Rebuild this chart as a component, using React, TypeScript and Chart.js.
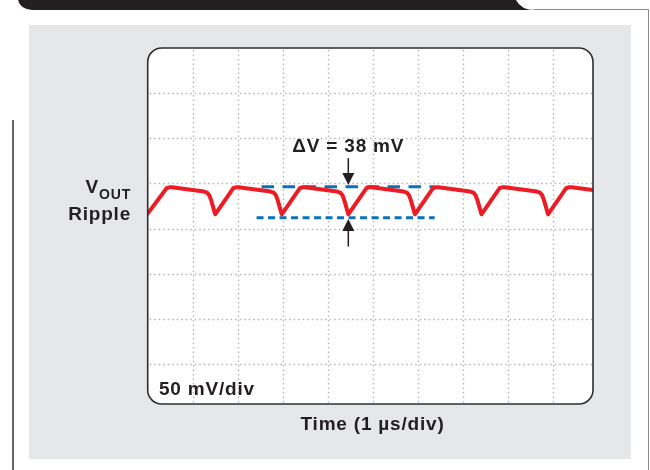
import React, { useEffect, useRef } from "react";
import { Chart, registerables } from "chart.js";

Chart.register(...registerables);

// ---- data (time in µs, ripple in mV, 0 mV = screen centre) ----
const timeUs = [
  0.0, 0.42, 0.48, 0.54,
  1.25, 1.32, 1.37, 1.41, 1.45, 1.5, 1.9, 1.96, 2.02,
  2.73, 2.8, 2.85, 2.89, 2.93, 2.98, 3.38, 3.44, 3.5,
  4.21, 4.28, 4.33, 4.37, 4.41, 4.46, 4.86, 4.92, 4.98,
  5.69, 5.76, 5.81, 5.85, 5.89, 5.94, 6.34, 6.4, 6.46,
  7.17, 7.24, 7.29, 7.33, 7.37, 7.42, 7.82, 7.88, 7.94,
  8.65, 8.72, 8.77, 8.81, 8.85, 8.9, 9.3, 9.36, 9.42,
  9.9,
];
const rippleMv = [
  16.5, 44.6, 45.6, 45.7,
  41.0, 39.8, 36.8, 31.5, 24.5, 15.8, 44.6, 45.6, 45.7,
  41.0, 39.8, 36.8, 31.5, 24.5, 15.8, 44.6, 45.6, 45.7,
  41.0, 39.8, 36.8, 31.5, 24.5, 15.8, 44.6, 45.6, 45.7,
  41.0, 39.8, 36.8, 31.5, 24.5, 15.8, 44.6, 45.6, 45.7,
  41.0, 39.8, 36.8, 31.5, 24.5, 15.8, 44.6, 45.6, 45.7,
  41.0, 39.8, 36.8, 31.5, 24.5, 15.8, 44.6, 45.6, 45.7,
  42.6,
];
const peakLineUs = [2.53, 6.38];
const peakLineMv = [46.4, 46.4];
const troughLineUs = [2.42, 6.38];
const troughLineMv = [12.0, 12.0];

const xGridUs = [1, 2, 3, 4, 5, 6, 7, 8, 9];
const yGridMv = [-150, -100, -50, 0, 50, 100, 150];
const xRangeUs = [0, 9.9];
const yRangeMv = [-194.4, 200];

const arrowUs = 4.46;
const downArrowMv = [78, 48.2];
const upArrowMv = [-20, 10.6];

const deltaLabel = "\u0394V = 38 mV";
const yLabelMain = "V";
const yLabelSub = "OUT";
const yLabelLine2 = "Ripple";
const scaleLabel = "50 mV/div";
const xTitle = "Time (1 \u00B5s/div)";

const FONT = '"Liberation Sans", Arial, Helvetica, sans-serif';
const TEXT = "#231f20";

function roundRect(ctx: CanvasRenderingContext2D, x: number, y: number, w: number, h: number, r: number) {
  ctx.beginPath();
  ctx.moveTo(x + r, y);
  ctx.lineTo(x + w - r, y);
  ctx.arcTo(x + w, y, x + w, y + r, r);
  ctx.lineTo(x + w, y + h - r);
  ctx.arcTo(x + w, y + h, x + w - r, y + h, r);
  ctx.lineTo(x + r, y + h);
  ctx.arcTo(x, y + h, x, y + h - r, r);
  ctx.lineTo(x, y + r);
  ctx.arcTo(x, y, x + r, y, r);
  ctx.closePath();
}

function arrow(ctx: CanvasRenderingContext2D, x: number, yFrom: number, yTip: number) {
  const dir = yTip > yFrom ? 1 : -1;
  const headLen = 12;
  const headHalf = 6;
  ctx.save();
  ctx.strokeStyle = TEXT;
  ctx.fillStyle = TEXT;
  ctx.lineWidth = 1.5;
  ctx.beginPath();
  ctx.moveTo(x, yFrom);
  ctx.lineTo(x, yTip - dir * headLen);
  ctx.stroke();
  ctx.beginPath();
  ctx.moveTo(x, yTip);
  ctx.lineTo(x - headHalf, yTip - dir * headLen);
  ctx.lineTo(x + headHalf, yTip - dir * headLen);
  ctx.closePath();
  ctx.fill();
  ctx.restore();
}

const decor = {
  id: "decor",
  beforeDraw(chart: any) {
    const ctx: CanvasRenderingContext2D = chart.ctx;
    const { left, right, top, bottom } = chart.chartArea;
    const xs = chart.scales.x;
    const ys = chart.scales.y;
    ctx.save();
    ctx.fillStyle = "#ffffff";
    ctx.fillRect(0, 0, chart.width, chart.height);

    // header bar
    ctx.fillStyle = "#231f20";
    ctx.beginPath();
    ctx.moveTo(18, 0);
    ctx.lineTo(516, 0);
    ctx.quadraticCurveTo(521, 10, 535, 10);
    ctx.lineTo(32, 10);
    ctx.quadraticCurveTo(20, 9, 18, 0);
    ctx.closePath();
    ctx.fill();

    ctx.strokeStyle = "#8a8a8a";
    ctx.lineWidth = 1;
    ctx.beginPath();
    ctx.moveTo(534, 9.5);
    ctx.lineTo(648.5, 9.5);
    ctx.lineTo(648.5, 470);
    ctx.stroke();

    // left rule
    ctx.strokeStyle = "#666666";
    ctx.lineWidth = 2;
    ctx.beginPath();
    ctx.moveTo(13, 120);
    ctx.lineTo(13, 470);
    ctx.stroke();

    // gray panel
    ctx.fillStyle = "#e6e7e8";
    ctx.fillRect(29, 25, 602, 434);

    // plot face
    ctx.fillStyle = "#ffffff";
    roundRect(ctx, left, top, right - left, bottom - top, 14);
    ctx.fill();

    // dotted grid
    ctx.strokeStyle = "#b4b4b4";
    ctx.lineWidth = 1.3;
    ctx.setLineDash([1.5, 3]);
    for (const v of xGridUs) {
      const px = Math.round(xs.getPixelForValue(v)) + 0.5;
      ctx.beginPath();
      ctx.moveTo(px, top + 2);
      ctx.lineTo(px, bottom - 1);
      ctx.stroke();
    }
    for (const v of yGridMv) {
      const py = Math.round(ys.getPixelForValue(v)) + 0.5;
      ctx.beginPath();
      ctx.moveTo(left + 2, py);
      ctx.lineTo(right - 1, py);
      ctx.stroke();
    }
    ctx.restore();
  },
  afterDatasetsDraw(chart: any) {
    const ctx: CanvasRenderingContext2D = chart.ctx;
    const { left, right, top, bottom } = chart.chartArea;
    const xs = chart.scales.x;
    const ys = chart.scales.y;
    ctx.save();
    // border
    ctx.strokeStyle = "#2e2e2e";
    ctx.lineWidth = 1.6;
    roundRect(ctx, left, top, right - left, bottom - top, 14);
    ctx.stroke();

    // arrows
    const ax = xs.getPixelForValue(arrowUs);
    arrow(ctx, ax, ys.getPixelForValue(downArrowMv[0]), ys.getPixelForValue(downArrowMv[1]));
    arrow(ctx, ax, ys.getPixelForValue(upArrowMv[0]), ys.getPixelForValue(upArrowMv[1]));

    // texts
    ctx.fillStyle = TEXT;
    (ctx as any).letterSpacing = "0.8px";
    ctx.font = `bold 19px ${FONT}`;
    ctx.textBaseline = "alphabetic";

    ctx.textAlign = "center";
    ctx.fillText(deltaLabel, ax, 151.7);

    ctx.textAlign = "left";
    ctx.fillText(scaleLabel, 159, 395);

    ctx.textAlign = "center";
    ctx.fillText(xTitle, 372.5, 429.5);

    ctx.textAlign = "right";
    ctx.fillText(yLabelLine2, 131, 219.5);

    ctx.font = `bold 14px ${FONT}`;
    const subW = ctx.measureText(yLabelSub).width;
    ctx.fillText(yLabelSub, 131, 199);
    ctx.font = `bold 19px ${FONT}`;
    ctx.fillText(yLabelMain, 131 - subW, 193.3);
    ctx.restore();
  },
};

export default function App() {
  const ref = useRef<HTMLCanvasElement | null>(null);
  useEffect(() => {
    if (!ref.current) return;
    const chart = new Chart(ref.current, {
      type: "line",
      data: {
        datasets: [
          {
            data: timeUs.map((t, i) => ({ x: t, y: rippleMv[i] })),
            borderColor: "#ed1c24",
            borderWidth: 4,
            pointRadius: 0,
            tension: 0,
            borderJoinStyle: "round",
            borderCapStyle: "round",
            order: 0,
          },
          {
            data: peakLineUs.map((t, i) => ({ x: t, y: peakLineMv[i] })),
            borderColor: "#0a72bb",
            borderWidth: 3,
            borderDash: [12.5, 8.5],
            pointRadius: 0,
            order: 1,
          },
          {
            data: troughLineUs.map((t, i) => ({ x: t, y: troughLineMv[i] })),
            borderColor: "#0a72bb",
            borderWidth: 3,
            borderDash: [7, 4.5],
            pointRadius: 0,
            order: 1,
          },
        ],
      },
      options: {
        responsive: false,
        animation: false,
        devicePixelRatio: 1,
        layout: { padding: { left: 147.7, right: 57, top: 48, bottom: 66 } },
        scales: {
          x: { type: "linear", min: xRangeUs[0], max: xRangeUs[1], display: false },
          y: { type: "linear", min: yRangeMv[0], max: yRangeMv[1], display: false },
        },
        plugins: { legend: { display: false }, tooltip: { enabled: false } },
      },
      plugins: [decor],
    } as any);
    return () => chart.destroy();
  }, []);
  return (
    <div style={{ position: "absolute", left: 0, top: 0, width: 650, height: 470 }}>
      <canvas ref={ref} width={650} height={470} style={{ width: 650, height: 470, display: "block" }} />
    </div>
  );
}
